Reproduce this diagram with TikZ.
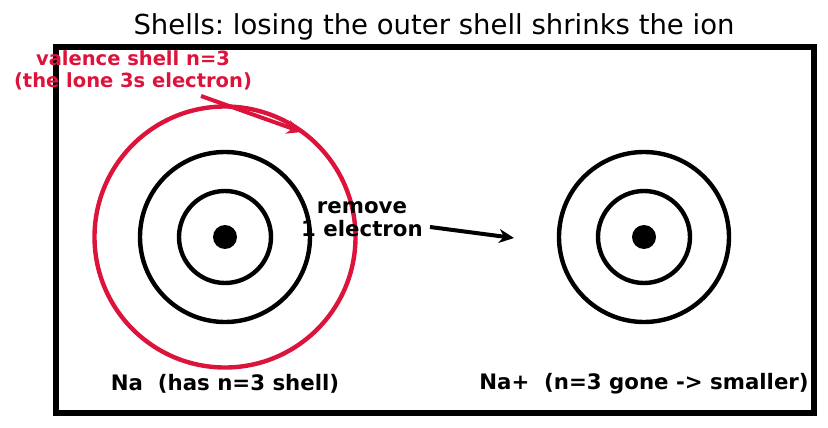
\documentclass[tikz,border=0pt]{standalone}
\usepackage{fontspec}
\setmainfont{DejaVu Sans}
\usetikzlibrary{arrows.meta}
\definecolor{crim}{RGB}{220,20,60}
\frenchspacing
\tikzset{
  shell/.style={draw=black, line width=4.4pt},
  redshell/.style={draw=crim, line width=4.4pt},
  lbl/.style={font=\fontsize{21.3}{23}\selectfont\bfseries, align=center, inner sep=0pt},
  redlbl/.style={font=\fontsize{19.5}{22}\selectfont\bfseries, align=center, inner sep=0pt, text=crim},
  arr/.style={line width=4pt, -{Stealth[length=15pt,width=14pt]}},
}
\begin{document}
\begin{tikzpicture}[x=1pt,y=-1pt]
\useasboundingbox (0,0) rectangle (828,428);
\node[inner sep=0pt] (title) at (434,27) {\fontsize{27.5}{30}\selectfont Shells: losing the outer shell shrinks the ion};
\draw[line width=5.5pt] (56,47) rectangle (814,413);
% left atom
\coordinate (na) at (225,237);
\draw[redshell] (na) circle[radius=130.5];
\draw[shell] (na) circle[radius=85];
\draw[shell] (na) circle[radius=46];
\fill (na) circle[radius=12];
% right atom
\coordinate (nap) at (644,237);
\draw[shell] (nap) circle[radius=85];
\draw[shell] (nap) circle[radius=46];
\fill (nap) circle[radius=12];
% labels
\node[lbl] (rem) at (362,219.5) {remove\\1 electron};
\coordinate (a1) at (430,227);
\coordinate (a2) at (514,238);
\draw[arr] (a1) -- (a2);
\node[redlbl] (val) at (133,70) {valence shell n=3\\(the lone 3s electron)};
\coordinate (r1) at (201,96);
\coordinate (r2) at (302,132);
\draw[arr, draw=crim, fill=crim] (r1) -- (r2);
\node[lbl] (nalbl) at (225,384) {Na\ \ (has n=3 shell)};
\node[lbl] (naplbl) at (644,384) {Na+\ \ (n=3 gone -> smaller)};
\end{tikzpicture}
\end{document}
